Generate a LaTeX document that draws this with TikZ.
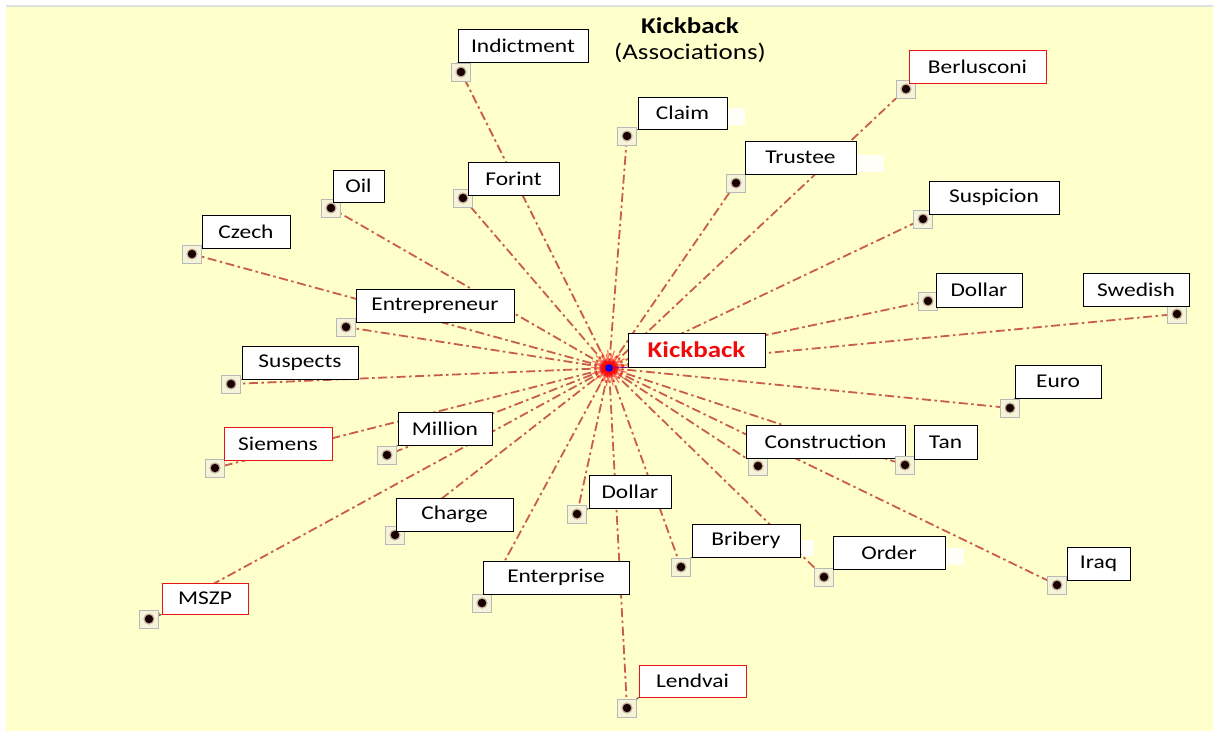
\documentclass[tikz,border=0pt]{standalone}
\usepackage{fontspec}
\setmainfont{Carlito}[FakeStretch=1.2]
\usetikzlibrary{calc}
\definecolor{bgyellow}{RGB}{255,255,204}
\definecolor{linkred}{RGB}{202,92,78}
\definecolor{markfill}{RGB}{246,244,216}
\pgfdeclarelayer{links}
\pgfsetlayers{links,main}

% one associated term: id, box corners x1 y1 x2 y2, marker x y, extra box style, label
\newcommand\assocterm[9]{%
  \node[marker] (m-#1) at (#6,#7) {};
  \fill[linkred!50!black, opacity=0.35] (m-#1.center) circle (5.6);
  \fill[black!90!red] (m-#1.center) circle (4.2);
  \node[termbox, minimum width={(#4-#2)*1pt}, minimum height={(#5-#3)*1pt}, #8]
    (t-#1) at ({(#2+#4)/2},{(#3+#5)/2}) {#9};
  \begin{pgfonlayer}{links}
    \draw[assoc] (c) -- (m-#1);
  \end{pgfonlayer}
}

\begin{document}
\begin{tikzpicture}[x=1pt,y=-1pt,
  assoc/.style={draw=linkred, line width=1.8pt, dash pattern=on 9pt off 3.5pt on 2.5pt off 3.5pt},
  termbox/.style={draw=black, fill=white, line width=0.9pt, inner sep=0pt,
    font=\fontsize{19.5}{21}\selectfont},
  redbox/.style={draw={rgb,255:red,235;green,20;blue,20}},
  marker/.style={draw=black!28, fill=markfill, line width=1pt, minimum width=19pt,
    minimum height=18pt, inner sep=0pt},
  tick/.style={draw=black!75, line width=1pt},
  patch/.style={fill=white, opacity=0.85}]

\useasboundingbox (0,0) rectangle (1213,731);
\begin{pgfonlayer}{links}
  \fill[bgyellow] (6,6) rectangle (1213,731);
  \draw[black!12, line width=1.2pt] (6,6) -- (1213,6);
  % faint white leftovers beside some labels
  \fill[patch] (727,108) rectangle (745,125);
  \fill[patch] (857,155) rectangle (884,172);
  \fill[patch] (801,540) rectangle (814,556);
  \fill[patch] (946,548) rectangle (964,565);
\end{pgfonlayer}

% title
\node[font=\fontsize{22.5}{24}\selectfont\bfseries] (title) at (690,26) {Kickback};
\node[font=\fontsize{22.5}{24}\selectfont] (subtitle) at (690,53) {(Associations)};

% hub
\coordinate (c) at (609,368);

\assocterm{ind}{458}{29}{588}{62}{461}{72}{}{Indictment}
\assocterm{cla}{638}{97}{727}{129}{627}{136}{}{Claim}
\assocterm{ber}{909}{50}{1046}{83}{906}{89}{redbox}{Berlusconi}
\assocterm{tru}{745}{141}{856}{174}{736}{183}{}{Trustee}
\assocterm{for}{468}{162}{559}{195}{463}{198}{}{Forint}
\assocterm{oil}{333}{170}{384}{202}{331}{208}{}{Oil}
\assocterm{cze}{202}{215}{290}{248}{192}{254}{}{Czech}
\assocterm{sus}{929}{181}{1059}{214}{923}{219}{}{Suspicion}
\assocterm{ent}{356}{289}{514}{322}{346}{327}{}{Entrepreneur}
\assocterm{dol}{936}{273}{1022}{307}{928}{301}{}{Dollar}
\assocterm{swe}{1083}{273}{1189}{306}{1177}{314}{}{Swedish}
\assocterm{sps}{242}{346}{358}{379}{231}{384}{}{Suspects}
\assocterm{eur}{1015}{365}{1101}{398}{1010}{408}{}{Euro}
\assocterm{sie}{224}{427}{332}{460}{215}{468}{redbox}{Siemens}
\assocterm{mil}{398}{412}{492}{445}{387}{455}{}{Million}
\assocterm{con}{746}{425}{905}{458}{758}{466}{}{Construction}
\assocterm{tan}{914}{425}{977}{459}{905}{465}{}{Tan}
\assocterm{cha}{396}{498}{513}{531}{395}{535}{}{Charge}
\assocterm{dlb}{589}{475}{671}{508}{577}{514}{}{Dollar}
\assocterm{bri}{692}{524}{800}{557}{681}{567}{}{Bribery}
\assocterm{ord}{833}{536}{945}{569}{824}{577}{}{Order}
\assocterm{ira}{1067}{547}{1130}{580}{1057}{585}{}{Iraq}
\assocterm{enp}{483}{561}{629}{594}{482}{603}{}{Enterprise}
\assocterm{msz}{162}{583}{248}{614}{149}{619}{redbox}{MSZP}
\assocterm{len}{639}{665}{746}{697}{627}{708}{redbox}{Lendvai}

% short leaders from each marker to its label
\begin{pgfonlayer}{links}
\foreach \i in {ind,cla,ber,tru,for,oil,cze,sus,ent,dol,sps,eur,sie,mil,tan,cha,dlb,bri,ord,ira,enp,msz,len}
  \draw[tick] (m-\i.center) -- (t-\i.south west);
\draw[tick] (m-swe.center) -- (m-swe.center |- t-swe.south);
\draw[tick] (m-con.center) -- (m-con.center |- t-con.south);
\end{pgfonlayer}

% hub burst and its own label
\foreach \a in {0,7,...,359}
  \draw[red, opacity=0.55, line width=1.2pt] (c) -- +(\a:{10+4*mod(\a,3)});
\fill[red, opacity=0.6] (c) circle (7);
\fill[blue] (c) circle (3.8);
\node[termbox, minimum width=137pt, minimum height=34pt,
  font=\fontsize{22.5}{24}\selectfont\bfseries, text={rgb,255:red,240;green,10;blue,10}]
  (hub) at (696.5,350) {Kickback};
\draw[blue!50!red, line width=0.8pt] (c) -- (hub.south west);
\end{tikzpicture}
\end{document}
